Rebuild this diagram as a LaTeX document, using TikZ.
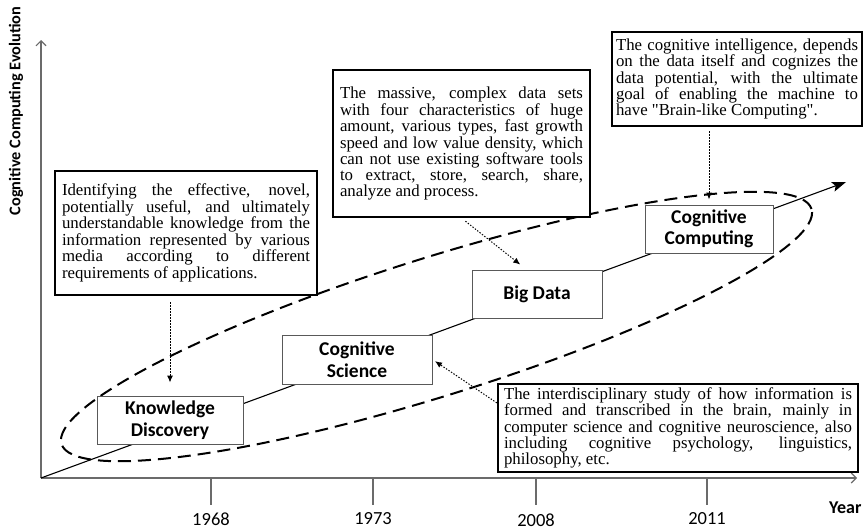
\documentclass[tikz,border=0pt]{standalone}
\usepackage{fontspec}
\setmainfont{Liberation Serif}
\newfontfamily\cali{Carlito}
\usetikzlibrary{arrows.meta,calc}
\definecolor{axisgray}{gray}{0.42}
\definecolor{boxgray}{gray}{0.35}
\newcommand\straightquote{\XeTeXglyph\XeTeXglyphindex "quotedbl"\relax}
\begin{document}
\begin{tikzpicture}[x=1pt,y=-1pt,
  axis/.style={draw=axisgray, line width=1.3pt},
  axisarrow/.style={axis, -{Straight Barb[length=5pt,width=10pt,line width=1.1pt]}},
  trend/.style={draw=black, line width=1.1pt, -{Stealth[length=14pt,width=10pt,inset=3pt]}},
  ring/.style={draw=black, line width=2pt, dash pattern=on 13pt off 7pt},
  txtbox/.style={draw=black, line width=2.2pt, fill=white, inner ysep=0pt, align=justify,
    font=\fontsize{16.8}{15.2}\selectfont},
  labbox/.style={draw=boxgray, line width=1pt, fill=white, inner sep=0pt, align=center,
    font=\cali\bfseries\fontsize{19.5}{21.5}\selectfont},
  yearlab/.style={font=\cali\fontsize{18.5}{20}\selectfont},
  dotarrow/.style={draw=black, line width=1pt, dash pattern=on 1.4pt off 1.6pt,
    -{Latex[length=7pt,width=6pt]}},
]
\useasboundingbox (0,0) rectangle (864,530);

% axes
\coordinate (O) at (41,478);
\coordinate (YT) at (41,40);
\coordinate (XT) at (857,478);
\draw[axisarrow] (O) -- (YT);
\draw[axisarrow] (O) -- (XT);
\node[rotate=90, font=\cali\bfseries\fontsize{16.3}{20}\selectfont] (ylab) at (16,111) {Cognitive Computing Evolution};
\node[anchor=east, font=\cali\bfseries\fontsize{18}{20}\selectfont] (xlab) at (865,508) {Year};

% ticks and years
\foreach \x/\yr/\yy in {211/1968/519, 373/1973/519, 536/2008/520.5, 707/2011/519}{
  \draw[axis] (\x,478) -- (\x,505);
  \node[yearlab] (y\yr) at (\x,\yy) {\yr};
}

% trend line
\coordinate (TT) at (846,182);
\draw[trend] (O) -- (TT);

% dashed ring
\draw[ring, rotate around={17.4:(436.5,326.5)}] (436.5,326.5) ellipse [x radius=393pt, y radius=69pt];

% text boxes
\node[txtbox, inner xsep=7pt, text width=248pt, minimum width=262pt, minimum height=124pt] (ID) at (186,233)
 {Identifying the effective, novel,\linebreak potentially useful, and ultimately\linebreak understandable knowledge from the\linebreak information represented by various\linebreak media according to different\linebreak requirements of applications.};

\node[txtbox, inner xsep=7pt, text width=243pt, minimum width=257pt, minimum height=147pt] (BT) at (461.5,143.5)
 {The massive, complex data sets\linebreak with four characteristics of huge\linebreak amount, various types, fast growth\linebreak speed and low value density, which\linebreak can not use existing software tools\linebreak to extract, store, search, share,\linebreak analyze and process.};

\node[txtbox, inner xsep=4pt, text width=242pt, minimum width=250pt, minimum height=94pt] (CI) at (737,79)
 {The cognitive intelligence, depends\linebreak on the data itself and cognizes the\linebreak data potential, with the ultimate\linebreak goal of enabling the machine to\linebreak have \straightquote Brain-like Computing\straightquote.};

\node[txtbox, inner xsep=6pt, text width=348pt, minimum width=360pt, minimum height=88pt] (IS) at (678,428)
 {The interdisciplinary study of how information is\linebreak formed and transcribed in the brain, mainly in\linebreak computer science and cognitive neuroscience, also\linebreak including cognitive psychology, linguistics,\linebreak philosophy, etc.};

% stage boxes
\node[labbox, minimum width=146pt, minimum height=48pt] (KD) at (170,420) {Knowledge\\Discovery};
\node[labbox, minimum width=150pt, minimum height=49pt] (CS) at (357,359.5) {Cognitive\\Science};
\node[labbox, minimum width=130pt, minimum height=48pt] (BD) at (537,294) {Big Data};
\node[labbox, minimum width=128pt, minimum height=48pt] (CC) at (709,229) {Cognitive\\Computing};

% dotted pointers
\draw[dotarrow, shorten <=6pt, shorten >=13pt] (ID.south -| KD.north) -- (KD.north);
\draw[dotarrow, shorten <=5pt, shorten >=8pt] (BT.south) -- ($(BD.north west)!0.42!(BD.north east)$);
\draw[dotarrow, shorten <=4pt, shorten >=5pt] (CC.north |- CI.south) -- (CC.north);
\draw[dotarrow, shorten >=3pt] ($(IS.north west)+(0,20)$) -- (CS.east);
\end{tikzpicture}
\end{document}
